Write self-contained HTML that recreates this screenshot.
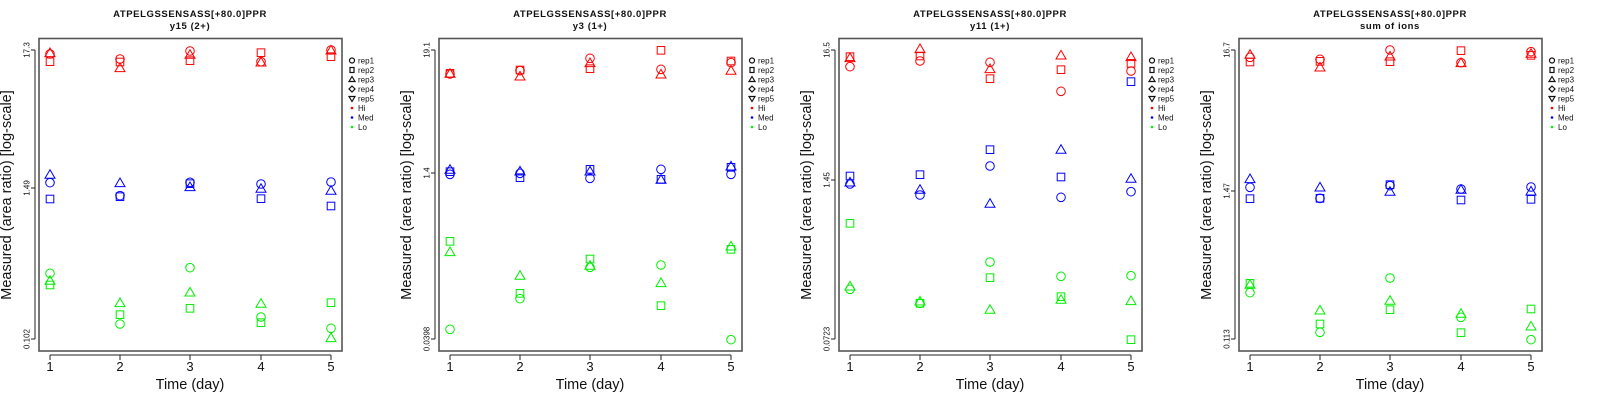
<!DOCTYPE html>
<html><head><meta charset="utf-8"><style>
html,body{margin:0;padding:0;background:#fff;}
svg{display:block;font-family:"Liberation Sans",sans-serif;}
.t{font-size:9.5px;font-weight:bold;text-anchor:middle;fill:#111;letter-spacing:0.6px}
.yl{font-size:8px;text-anchor:middle;fill:#111}
.xl{font-size:13px;text-anchor:middle;fill:#111}
.lab{font-size:14.5px;text-anchor:middle;fill:#111}
.lg{font-size:8px;fill:#111}
</style></head><body>
<svg id="s" width="1600" height="400" viewBox="0 0 1600 400">
<g transform="translate(0,0)">
<text class="t" x="190" y="17">ATPELGSSENSASS[+80.0]PPR</text><text class="t" x="190" y="29">y15 (2+)</text>
<text class="yl" transform="translate(29.5,50) rotate(-90)">17.3</text>
<text class="yl" transform="translate(29.5,188) rotate(-90)">1.49</text>
<text class="yl" transform="translate(29.5,339) rotate(-90)">0.102</text>
</g>
<g transform="translate(400,0)">
<text class="t" x="190" y="17">ATPELGSSENSASS[+80.0]PPR</text><text class="t" x="190" y="29">y3 (1+)</text>
<text class="yl" transform="translate(29.5,50) rotate(-90)">19.1</text>
<text class="yl" transform="translate(29.5,173) rotate(-90)">1.4</text>
<text class="yl" transform="translate(29.5,339) rotate(-90)">0.0398</text>
</g>
<g transform="translate(800,0)">
<text class="t" x="190" y="17">ATPELGSSENSASS[+80.0]PPR</text><text class="t" x="190" y="29">y11 (1+)</text>
<text class="yl" transform="translate(29.5,50) rotate(-90)">16.5</text>
<text class="yl" transform="translate(29.5,180) rotate(-90)">1.45</text>
<text class="yl" transform="translate(29.5,339) rotate(-90)">0.0723</text>
</g>
<g transform="translate(1200,0)">
<text class="t" x="190" y="17">ATPELGSSENSASS[+80.0]PPR</text><text class="t" x="190" y="29">sum of ions</text>
<text class="yl" transform="translate(29.5,50) rotate(-90)">16.7</text>
<text class="yl" transform="translate(29.5,191) rotate(-90)">1.47</text>
<text class="yl" transform="translate(29.5,339) rotate(-90)">0.113</text>
</g>
</svg>
<script>
var NS="http://www.w3.org/2000/svg",svg=document.getElementById("s");
function el(t,a,p,txt){var e=document.createElementNS(NS,t);for(var k in a)e.setAttribute(k,a[k]);if(txt)e.textContent=txt;(p||svg).appendChild(e);return e;}
var XS=[50,120,190,261,331],col={r:"#ff0000",b:"#0000ff",g:"#00ee00"};
function mk(g,x,y,s,c){
 if(s=="c")el("circle",{cx:x,cy:y,r:4.3,fill:"none",stroke:c,"stroke-width":1},g);
 else if(s=="s")el("rect",{x:x-3.8,y:y-3.8,width:7.6,height:7.6,fill:"none",stroke:c,"stroke-width":1},g);
 else el("polygon",{points:(x-5)+","+(y+3.3)+" "+(x+5)+","+(y+3.3)+" "+x+","+(y-5.3),fill:"none",stroke:c,"stroke-width":1},g);
}
var D=[
{r:[["t160","c162","s185"],["c177","s186","t205"],["c153","t165","s182"],["s158","c185","t188"],["c150","t152","s170"]],
 b:[["t525","c548","s597"],["t550","c587","s590"],["c547","s551","t562"],["c552","t567","s596"],["c546","t573","s618"]],
 g:[["c820","t843","s855"],["t910","s944","c972"],["c803","t878","s925"],["t912","c951","s968"],["s908","c985","t1015"]]},
{r:[["c222","s220","t222"],["s210","c212","t230"],["c175","t190","s206"],["s151","c208","t224"],["s183","c188","t213"]],
 b:[["t510","s515","c523"],["t515","c520","s533"],["s508","t515","c535"],["c508","s538","t540"],["t500","s502","c523"]],
 g:[["s724","t757","c988"],["t828","s880","c896"],["s777","t798","c802"],["c795","t850","s917"],["t740","s748","c1019"]]},
{r:[["s170","t175","c200"],["t148","s168","c183"],["c187","t208","s236"],["t167","s209","c274"],["t172","s190","c213"]],
 b:[["s528","c552","t548"],["s524","t570","c585"],["s449","c498","t612"],["t450","s531","c592"],["s245","t537","c575"]],
 g:[["s670","t860","c868"],["c910","t905","s910"],["c786","s833","t930"],["c829","s890","t900"],["c827","t904","s1019"]]},
{r:[["t165","c172","s186"],["c178","s184","t203"],["c150","t170","s185"],["s152","c188","t190"],["c155","t162","s166"]],
 b:[["t538","c562","s596"],["t563","c595","s595"],["s554","c557","t576"],["c567","t570","s600"],["c561","t575","s598"]],
 g:[["s850","t855","c878"],["t932","s972","c997"],["c834","t903","s929"],["t942","c952","s998"],["s927","t980","c1019"]]}];
for(var p=0;p<4;p++){
 var g=el("g",{transform:"translate("+(p*400)+",0)"});
 el("rect",{x:39,y:38.5,width:303,height:312.5,fill:"none",stroke:"#555","stroke-width":1.6},g);
 el("line",{x1:50,x2:331,y1:355,y2:355,stroke:"#222","stroke-width":1},g);
 for(var i=0;i<5;i++){el("line",{x1:XS[i],x2:XS[i],y1:355,y2:360,stroke:"#222"},g);el("text",{"class":"xl",x:XS[i],y:371},g,""+(i+1));}
 el("line",{x1:35,x2:35,y1:50,y2:339,stroke:"#222"},g);
 var mids=[188,173,180,191];
 [50,mids[p],339].forEach(function(y){el("line",{x1:31,x2:35,y1:y,y2:y,stroke:"#222"},g);});
 el("text",{"class":"lab",x:190,y:389},g,"Time (day)");
 el("text",{"class":"lab",transform:"translate(11,195) rotate(-90)"},g,"Measured (area ratio) [log-scale]");
 ["r","b","g"].forEach(function(c){D[p][c].forEach(function(arr,i){arr.forEach(function(s){mk(g,XS[i],parseFloat(s.slice(1))/3,s[0],col[c]);});});});
 var names=["rep1","rep2","rep3","rep4","rep5","Hi","Med","Lo"];
 for(var k=0;k<8;k++){
  var y=60.5+k*9.5,x=352;
  if(k==0)el("circle",{cx:x,cy:y,r:2.5,fill:"none",stroke:"#111","stroke-width":1.2},g);
  else if(k==1)el("rect",{x:x-2,y:y-2.5,width:4,height:5,fill:"none",stroke:"#111","stroke-width":1.2},g);
  else if(k==2)el("polygon",{points:(x-3)+","+(y+2)+" "+(x+3)+","+(y+2)+" "+x+","+(y-3),fill:"none",stroke:"#111","stroke-width":1.2},g);
  else if(k==3)el("polygon",{points:x+","+(y-3)+" "+(x+3)+","+y+" "+x+","+(y+3)+" "+(x-3)+","+y,fill:"none",stroke:"#111","stroke-width":1.2},g);
  else if(k==4)el("polygon",{points:(x-3)+","+(y-2)+" "+(x+3)+","+(y-2)+" "+x+","+(y+3),fill:"none",stroke:"#111","stroke-width":1.2},g);
  else el("circle",{cx:x,cy:y,r:1.3,fill:["#ff0000","#0000ff","#00ee00"][k-5]},g);
  el("text",{"class":"lg",x:358,y:y+3},g,names[k]);
 }
}
</script>
</body></html>
